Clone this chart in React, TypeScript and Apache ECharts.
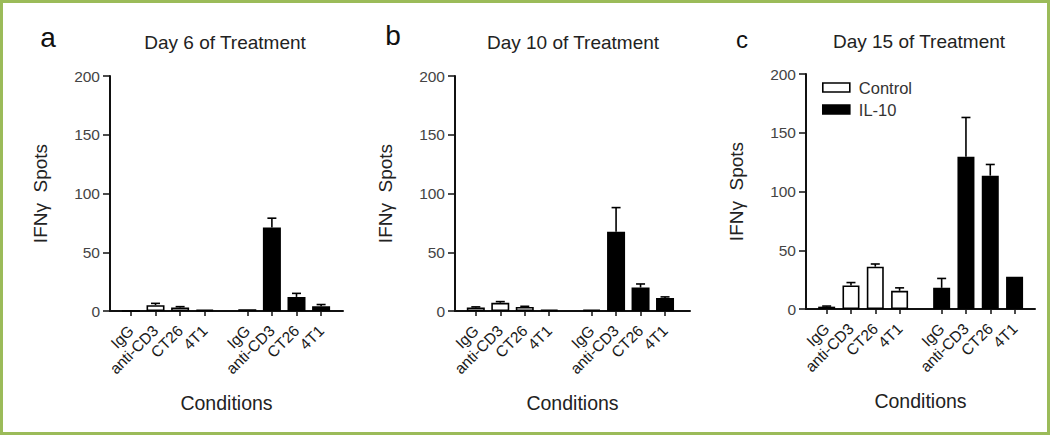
import React, { useEffect, useRef } from "react";
import * as echarts from "echarts";

const conditions = ["IgG", "anti-CD3", "CT26", "4T1"];
const groups = ["Control", "IL-10"];
const panelTitles = ["Day 6 of Treatment", "Day 10 of Treatment", "Day 15 of Treatment"];
const panelLetters = ["a", "b", "c"];
const yTicks = [0, 50, 100, 150, 200];

const day6Control = [0, 5, 3, 1];
const day6ControlErr = [0, 1.5, 0.7, 0];
const day6IL10 = [1.5, 71, 12, 4];
const day6IL10Err = [0, 8, 3, 1.5];

const day10Control = [3, 7, 3.5, 1];
const day10ControlErr = [0.5, 1, 0.5, 0];
const day10IL10 = [1, 67.5, 20, 11];
const day10IL10Err = [0, 20.5, 3, 1];

const day15Control = [2, 20, 36, 15.5];
const day15ControlErr = [0.5, 2.5, 2.3, 2.5];
const day15IL10 = [18, 129.5, 113.5, 27.5];
const day15IL10Err = [8, 33.5, 9.5, 0];

const FONT = "'Liberation Sans', Arial, Helvetica, sans-serif";

export default function App() {
  const ref = useRef<HTMLDivElement>(null);
  useEffect(() => {
    document.body.style.margin = "0";
    const chart = echarts.init(ref.current!, null, { renderer: "svg" });

    const panels = [
      { c: day6Control, ce: day6ControlErr, t: day6IL10, te: day6IL10Err },
      { c: day10Control, ce: day10ControlErr, t: day10IL10, te: day10IL10Err },
      { c: day15Control, ce: day15ControlErr, t: day15IL10, te: day15IL10Err },
    ];
    const layout = [
      { left: 110, top: 76, width: 233, height: 235, xMax: 9.47, bw: 18, letterX: 48, letterY: 37, letterSize: 28, titleX: 225, titleY: 42 },
      { left: 455, top: 76, width: 235, height: 235, xMax: 9.6, bw: 18, letterX: 393, letterY: 35, letterSize: 28, titleX: 573, titleY: 42 },
      { left: 806, top: 74, width: 229, height: 235, xMax: 9.42, bw: 17, letterX: 742, letterY: 39, letterSize: 24, titleX: 919, titleY: 41 },
    ];
    const firstOffset = 0.85;
    const groupShift = 4.73;
    const pos = (g: number, i: number) => firstOffset + i + g * groupShift;
    const allPos: number[] = [];
    const allLabels: string[] = [];
    groups.forEach((_, g) => conditions.forEach((c, i) => { allPos.push(pos(g, i)); allLabels.push(c); }));

    const axisColor = "#111";
    const grids: any[] = [];
    const xAxes: any[] = [];
    const yAxes: any[] = [];
    const series: any[] = [];
    const graphics: any[] = [
      { type: "rect", shape: { x: 1.5, y: 1.5, width: 1047, height: 432 }, style: { fill: "none", stroke: "#9BBB59", lineWidth: 3 }, silent: true },
    ];

    const errRender = (params: any, api: any) => {
      const x = api.value(0), y = api.value(1), e = api.value(2);
      if (!e) return { type: "group", children: [] };
      const p0 = api.coord([x, y]);
      const p1 = api.coord([x, y + e]);
      const st = { stroke: "#000", lineWidth: 1.6 };
      return {
        type: "group",
        children: [
          { type: "line", shape: { x1: p0[0], y1: p0[1], x2: p1[0], y2: p1[1] }, style: st },
          { type: "line", shape: { x1: p1[0] - 4.5, y1: p1[1], x2: p1[0] + 4.5, y2: p1[1] }, style: st },
        ],
      };
    };

    panels.forEach((p, k) => {
      const L = layout[k];
      grids.push({ left: L.left, top: L.top, width: L.width, height: L.height, containLabel: false });
      xAxes.push({
        type: "value", gridIndex: k, min: 0, max: L.xMax,
        name: "Conditions", nameLocation: "middle", nameGap: 82,
        nameTextStyle: { fontSize: 19.5, color: "#222", fontFamily: FONT },
        axisLine: { show: true, lineStyle: { color: axisColor, width: 2 } },
        axisTick: { show: true, customValues: allPos, length: 5, lineStyle: { color: axisColor, width: 1.5 } },
        axisLabel: {
          show: true, customValues: allPos, rotate: 45, margin: 17, fontSize: 15.5, color: "#1a1a1a", fontFamily: FONT,
          formatter: (v: number) => {
            const idx = allPos.findIndex((q) => Math.abs(q - v) < 0.01);
            return idx >= 0 ? allLabels[idx] : "";
          },
        },
        splitLine: { show: false },
      });
      yAxes.push({
        type: "value", gridIndex: k, min: yTicks[0], max: yTicks[yTicks.length - 1], interval: 50,
        name: "IFNγ  Spots", nameLocation: "middle", nameGap: 60,
        nameTextStyle: { fontSize: 19, color: "#222", fontFamily: FONT },
        axisLine: { show: true, lineStyle: { color: axisColor, width: 2 } },
        axisTick: { show: true, length: 7, lineStyle: { color: axisColor, width: 1.5 } },
        axisLabel: { fontSize: 15.5, color: "#444", margin: 10, fontFamily: FONT },
        splitLine: { show: false },
      });
      const groupData = [
        { name: groups[0], vals: p.c, errs: p.ce, fill: "#fff" },
        { name: groups[1], vals: p.t, errs: p.te, fill: "#000" },
      ];
      groupData.forEach((gd, g) => {
        series.push({
          type: "bar", name: gd.name, xAxisIndex: k, yAxisIndex: k, barWidth: L.bw, barGap: "-100%",
          data: gd.vals.map((v, i) => [pos(g, i), v]),
          itemStyle: { color: gd.fill, borderColor: "#000", borderWidth: 1.6 },
          z: 2,
        });
        series.push({
          type: "custom", name: gd.name + " error", xAxisIndex: k, yAxisIndex: k,
          data: gd.vals.map((v, i) => [pos(g, i), v, gd.errs[i]]),
          renderItem: errRender, z: 3, silent: true,
        });
      });
      graphics.push({
        type: "text", x: L.letterX, y: L.letterY,
        style: { text: panelLetters[k], fontSize: L.letterSize, fill: "#111", fontFamily: FONT, textAlign: "center", textVerticalAlign: "middle" },
      });
      graphics.push({
        type: "text", x: L.titleX, y: L.titleY,
        style: { text: panelTitles[k], fontSize: 19, fill: "#222", fontFamily: FONT, textAlign: "center", textVerticalAlign: "middle" },
      });
    });

    chart.setOption({
      animation: false,
      backgroundColor: "#fff",
      grid: grids,
      xAxis: xAxes,
      yAxis: yAxes,
      series,
      legend: {
        data: [
          { name: groups[0], itemStyle: { color: "#fff", borderColor: "#000", borderWidth: 1.6 } },
          { name: groups[1], itemStyle: { color: "#000", borderColor: "#000", borderWidth: 1.6 } },
        ],
        orient: "vertical", left: 822, top: 79, padding: 0, icon: "rect", itemWidth: 27, itemHeight: 9, itemGap: 5,
        selectedMode: false,
        textStyle: { fontSize: 16.5, color: "#333", fontFamily: FONT, padding: [0, 0, 0, 4] },
      },
      graphic: graphics,
    });
    return () => chart.dispose();
  }, []);
  return <div ref={ref} style={{ width: 1050, height: 435 }} />;
}
